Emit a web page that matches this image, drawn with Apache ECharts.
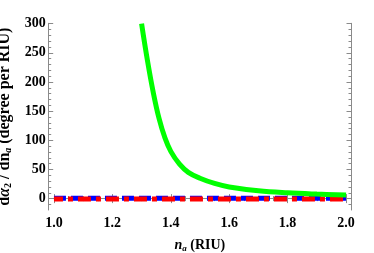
<!DOCTYPE html>
<html><head><meta charset="utf-8">
<script src="https://cdn.jsdelivr.net/npm/echarts@6/dist/echarts.min.js"></script>
<style>html,body{margin:0;padding:0;background:#fff}#c{width:374px;height:253px}</style>
</head><body><div id="c"></div>
<script>
// data
const greenN = [1.30,1.32,1.34,1.36,1.38,1.40,1.43,1.46,1.50,1.55,1.60,1.70,1.80,1.90,2.00];
const greenV = [300,237,182,137,104,81,59,45,35,26,20,13.5,10,7.8,6.2];
const blueN = [1.0,1.1,1.2,1.3,1.4,1.5,1.6,1.7,1.8,1.9,2.0];
const blueV = [0.6,0.6,0.6,0.6,0.6,0.6,0.6,0.6,0.6,0.6,0.6];
const redN = [1.0,1.1,1.2,1.3,1.4,1.5,1.6,1.7,1.8,1.9,2.0];
const redV = [-0.6,-0.6,-0.6,-0.6,-0.6,-0.6,-0.6,-0.6,-0.6,-0.6,-0.6];
const xMajor = [1.0,1.2,1.4,1.6,1.8,2.0];
const xMinor = [1.05,1.1,1.15,1.25,1.3,1.35,1.45,1.5,1.55,1.65,1.7,1.75,1.85,1.9,1.95];
const yMajor = [0,50,100,150,200,250,300];
const yMinor = [-20,-10,10,20,30,40,60,70,80,90,110,120,130,140,160,170,180,190,210,220,230,240,260,270,280,290];

const xMin = 0.982, xMax = 2.017, yMin = -19.5, yMax = 300.5;
const grey = '#8a8a8a';
const serif = '"Liberation Serif","Times New Roman",serif';

function zip(a,b){return a.map((v,i)=>[v,b[i]]);}

function xAx(pos, ticks, len, showLine, showLabel, name){
  const o = {type:'value', position:pos, min:xMin, max:xMax, splitLine:{show:false},
    axisLine:{show:showLine, lineStyle:{color:grey,width:1}},
    axisTick:{show:true, inside:true, length:len, customValues:ticks, lineStyle:{color:grey}},
    axisLabel:{show:showLabel, customValues:xMajor, margin:6, color:'#000', fontFamily:serif, fontWeight:'bold', fontSize:14,
      formatter:v=>v.toFixed(1)}};
  if(name){Object.assign(o,{name:name.text, nameLocation:'middle', nameGap:name.gap, nameTextStyle:name.style});}
  return o;
}
function yAx(pos, ticks, len, showLine, showLabel, name){
  const o = {type:'value', position:pos, min:yMin, max:yMax, splitLine:{show:false},
    axisLine:{show:showLine, lineStyle:{color:grey,width:1}},
    axisTick:{show:true, inside:true, length:len, customValues:ticks, lineStyle:{color:grey}},
    axisLabel:{show:showLabel, customValues:yMajor, margin:3, color:'#000', fontFamily:serif, fontWeight:'bold', fontSize:14,
      formatter:v=>String(v)}};
  if(name){Object.assign(o,{name:name.text, nameLocation:'middle', nameGap:name.gap, nameTextStyle:name.style});}
  return o;
}
function mkRich(fs, sfs, pad){
  const base = {fontFamily:serif, fontWeight:'bold', fontSize:fs, color:'#000'};
  return {
    b:{...base, lineHeight:fs+2},
    i:{...base, fontStyle:'italic', lineHeight:fs+2},
    s:{...base, fontSize:sfs, lineHeight:fs+2, verticalAlign:'bottom', padding:[pad,0,0,0]},
    si:{...base, fontSize:sfs, fontStyle:'italic', lineHeight:fs+2, verticalAlign:'bottom', padding:[pad,0,0,0]}
  };
}
const chart = echarts.init(document.getElementById('c'), null, {renderer:'canvas'});
chart.setOption({
  animation:false,
  backgroundColor:'#fff',
  grid:{left:48.7, top:23.3, right:23, bottom:43, containLabel:false, outerBoundsMode:'none'},
  xAxis:[
    xAx('bottom', xMajor, 4.5, true, true, {text:'{i|n}{si|a}{b| (RIU)}', gap:27, style:{rich:mkRich(14,9,6)}}),
    xAx('bottom', xMinor, 2.5, false, false),
    xAx('top', xMajor, 4.5, true, false),
    xAx('top', xMinor, 2.5, false, false)
  ],
  yAxis:[
    yAx('left', yMajor, 4.5, true, true, {text:'{b|d}{i|α}{s|2}{b| / dn}{si|a}{b| (degree per RIU)}', gap:27, style:{rich:mkRich(16,10,7)}}),
    yAx('left', yMinor, 2.5, false, false),
    yAx('right', yMajor, 4.5, true, false),
    yAx('right', yMinor, 2.5, false, false)
  ],
  series:[
    {type:'line', data:zip(blueN,blueV), symbol:'none', smooth:false,
      lineStyle:{color:'#0000ff', width:5, type:[12,5]}, z:2},
    {type:'line', data:zip(redN,redV), symbol:'none',
      lineStyle:{color:'#ff0000', width:5, type:[13,5,5,5], dashOffset:4}, z:3},
    {type:'line', data:zip(greenN,greenV), symbol:'none', smooth:0.4,
      lineStyle:{color:'#00ff00', width:5}, z:4}
  ]
});
</script></body></html>
